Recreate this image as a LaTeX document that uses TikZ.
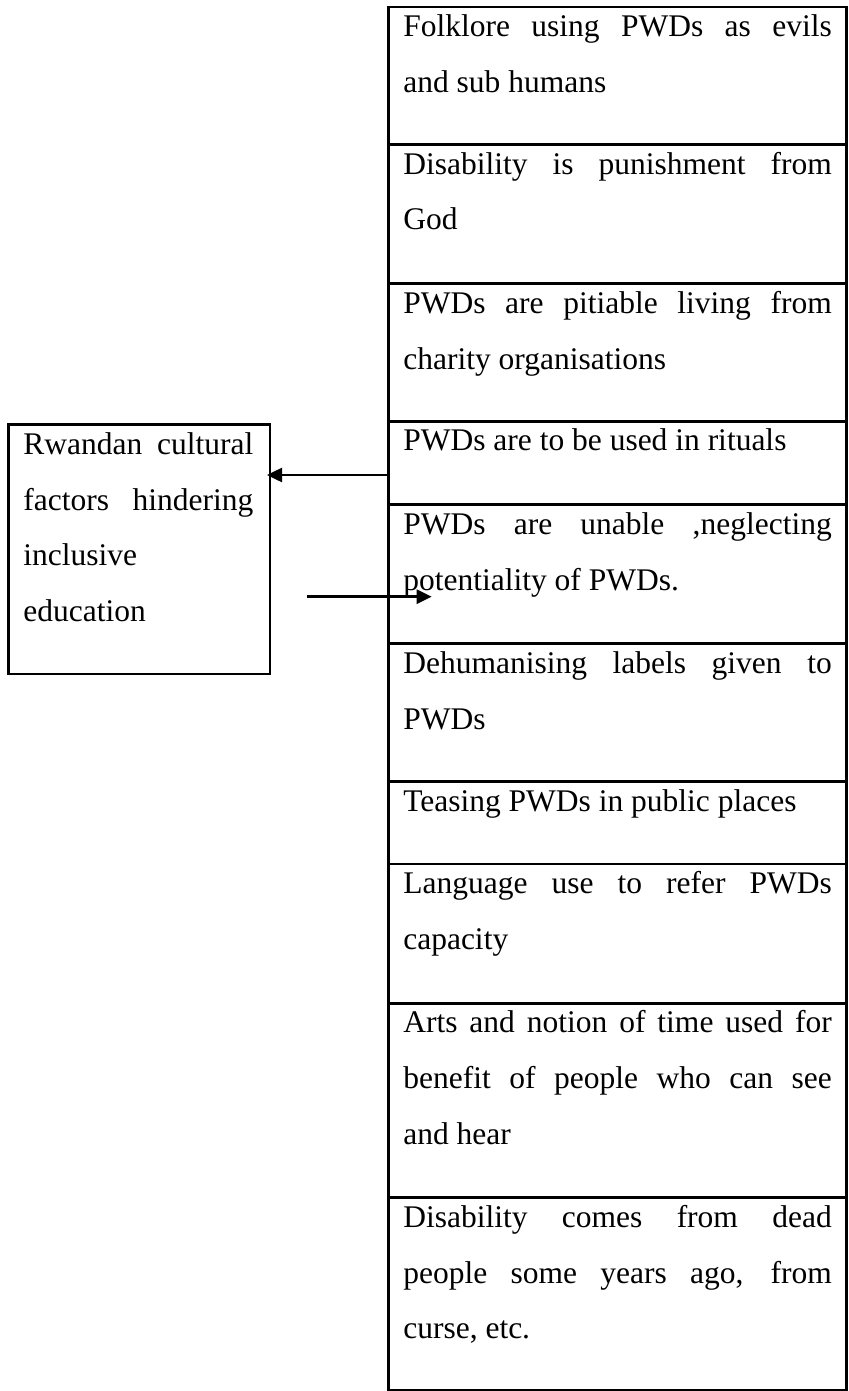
\documentclass[tikz,border=0pt]{standalone}
\usepackage{fontspec}
\setmainfont{Liberation Serif}
\usetikzlibrary{arrows.meta}
\newcommand\cellfont{\fontsize{31.5}{55.8}\selectfont\parindent=0pt\hyphenpenalty=10000\exhyphenpenalty=10000\tolerance=10000\hbadness=10000\emergencystretch=0pt}
\tikzset{
  boxline/.style={draw, rectangle, line width=2.8pt, inner sep=0pt, outer sep=0pt, anchor=north west},
  celltext/.style={anchor=north west, inner sep=0pt, outer sep=0pt, text width=428.5pt, align=justify, font=\cellfont},
  lefttext/.style={celltext, text width=230pt},
  arr/.style={line width=2.5pt, -{Triangle[length=15pt,width=14pt]}},
}
\begin{document}
\begin{tikzpicture}[x=1pt,y=-1pt]
\useasboundingbox (0,0) rectangle (848,1391);
% right column cells
\node[boxline, minimum width=458.2pt, minimum height=137.5pt] (c1) at (388.5,7) {};
\node[boxline, minimum width=458.2pt, minimum height=139.3pt] (c2) at (388.5,144.5) {};
\node[boxline, minimum width=458.2pt, minimum height=137.4pt] (c3) at (388.5,283.8) {};
\node[boxline, minimum width=458.2pt, minimum height=83.5pt] (c4) at (388.5,421.2) {};
\node[boxline, minimum width=458.2pt, minimum height=139.1pt] (c5) at (388.5,504.7) {};
\node[boxline, minimum width=458.2pt, minimum height=137.9pt] (c6) at (388.5,643.8) {};
\node[boxline, minimum width=458.2pt, minimum height=82.3pt] (c7) at (388.5,781.7) {};
\node[boxline, minimum width=458.2pt, minimum height=139.3pt] (c8) at (388.5,864) {};
\node[boxline, minimum width=458.2pt, minimum height=194.4pt] (c9) at (388.5,1003.3) {};
\node[boxline, minimum width=458.2pt, minimum height=192.3pt] (c10) at (388.5,1197.7) {};
% texts of the cells
\node[celltext] (t1) at ([xshift=14.8pt,yshift=9.4pt]c1.north west) {\strut Folklore using PWDs as evils\linebreak and sub humans};
\node[celltext] (t2) at ([xshift=14.8pt,yshift=9.4pt]c2.north west) {\strut Disability is punishment from\linebreak God};
\node[celltext] (t3) at ([xshift=14.8pt,yshift=9.4pt]c3.north west) {\strut PWDs are pitiable living from\linebreak charity organisations};
\node[celltext] (t4) at ([xshift=14.8pt,yshift=9.4pt]c4.north west) {\strut PWDs are to be used in rituals};
\node[celltext] (t5) at ([xshift=14.8pt,yshift=9.4pt]c5.north west) {\strut PWDs are unable ,neglecting\linebreak potentiality of PWDs.};
\node[celltext] (t6) at ([xshift=14.8pt,yshift=9.4pt]c6.north west) {\strut Dehumanising labels given to\linebreak PWDs};
\node[celltext] (t7) at ([xshift=14.8pt,yshift=9.4pt]c7.north west) {\strut Teasing PWDs in public places};
\node[celltext] (t8) at ([xshift=14.8pt,yshift=9.4pt]c8.north west) {\strut Language use to refer PWDs\linebreak capacity};
\node[celltext] (t9) at ([xshift=14.8pt,yshift=9.4pt]c9.north west) {\strut Arts and notion of time used for\linebreak benefit of people who can see\linebreak and hear};
\node[celltext] (t10) at ([xshift=14.8pt,yshift=9.4pt]c10.north west) {\strut Disability comes from dead\linebreak people some years ago, from\linebreak curse, etc.};
% left box
\node[boxline, minimum width=261.7pt, minimum height=249.3pt] (factors) at (8.3,424.7) {};
\node[lefttext] (tf) at ([xshift=15pt,yshift=9.4pt]factors.north west) {\strut Rwandan cultural\linebreak factors hindering\linebreak inclusive\newline education};
% arrows
\coordinate (y1) at (0,475);
\coordinate (a2s) at (306.7,596.7);
\draw[arr] (c4.west |- y1) -- ([xshift=-3pt]factors.east |- y1);
\draw[arr] (a2s) -- ([xshift=43.2pt]c5.west |- a2s);
\end{tikzpicture}
\end{document}
